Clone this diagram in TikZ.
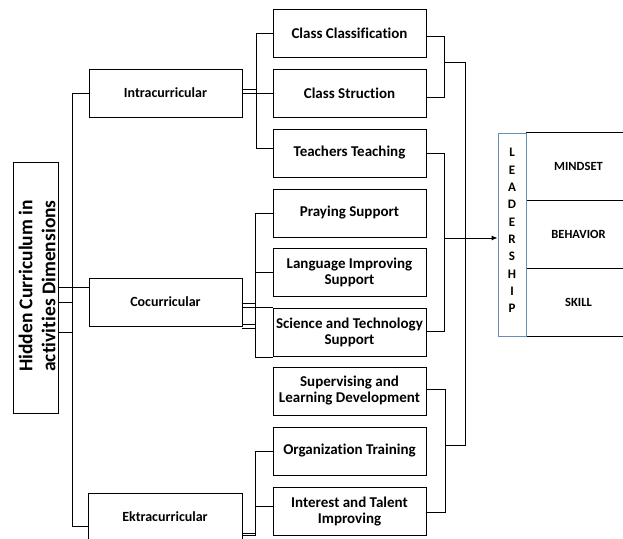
\documentclass[tikz,border=0pt]{standalone}
\usepackage{fontspec}
\setmainfont{Carlito}[RawFeature={-liga;-dlig;-clig}]
\usetikzlibrary{arrows.meta}
\definecolor{leadblue}{RGB}{105,142,180}
\begin{document}
\begin{tikzpicture}[x=1pt,y=-1pt,line width=0.9pt,
  box/.style={draw,line width=0.9pt,minimum width=153pt,minimum height=48pt,inner sep=1pt,align=center,
    font=\fontsize{15}{16}\selectfont\bfseries},
  mbox/.style={box,font=\fontsize{14}{16}\selectfont\bfseries},
  hbox/.style={draw,line width=0.9pt,minimum width=45pt,minimum height=251pt,inner sep=0pt},
  lbox/.style={draw,line width=0.9pt,minimum width=105pt,minimum height=68pt,inner sep=1pt,
    font=\fontsize{12.5}{14}\selectfont\bfseries},
  conn/.style={line width=0.9pt}]
\useasboundingbox (0,0) rectangle (623,538);

% left column
\node[hbox] (H) at (35.5,287.5) {};
\node[rotate=90,align=center,inner sep=0pt,font=\fontsize{19.5}{23}\selectfont\bfseries] (Ht) at (37,286)
  {Hidden Curriculum in\\activities Dimensions};

% middle column
\node[mbox] (intra) at (165.5,93) {Intracurricular};
\node[mbox] (cocu) at (165.5,302) {Cocurricular};
\node[mbox,minimum width=154pt] (ektra) at (165,517) {Ektracurricular};

% right column
\node[box] (cc) at (349.5,33) {Class Classification};
\node[box] (cs) at (349.5,93) {Class Struction};
\node[box] (tt) at (349.5,153) {Teachers Teaching};
\node[box] (ps) at (349.5,213) {Praying Support};
\node[box] (li) at (349.5,272) {Language Improving\\Support};
\node[box] (st) at (349.5,332) {Science and Technology\\Support};
\node[box] (sl) at (349.5,391) {Supervising and\\Learning Development};
\node[box] (ot) at (349.5,451) {Organization Training};
\node[box] (it) at (349.5,511) {Interest and Talent\\Improving};

% leadership block
\node[lbox] (mind) at (578.5,166.5) {MINDSET};
\node[lbox] (beh) at (578.5,234) {BEHAVIOR};
\node[lbox] (skill) at (578.5,302) {SKILL};
\node[draw=leadblue,line width=0.9pt,minimum width=28pt,minimum height=203pt,inner sep=0pt] (lead) at (512,234.5) {};
\node[align=center,inner sep=0pt,font=\fontsize{13}{17.33}\selectfont\bfseries] (lt) at (512,230.5)
  {L\\E\\A\\D\\E\\R\\S\\H\\I\\P};

% trunk from hidden curriculum
\draw[conn] (intra.west) -- ++(-16,0) |- ([yshift=-9pt]ektra.west);
\draw[conn] ([yshift=0.5pt]H.east) -- ([yshift=15pt]cocu.west);
\draw[conn] ([yshift=-14.5pt]H.east) -- ++(15,0);
\draw[conn] ([yshift=-44.5pt]H.east) -- ++(15,0);

% intracurricular branches
\draw[conn] (intra.east) -- (cs.west);
\draw[conn] ([yshift=4pt]intra.east) -- ++(15,0);
\draw[conn] (cc.west) -- ++(-16,0) |- ([yshift=5pt]tt.west);

% cocurricular branches
\draw[conn] (ps.west) -- ++(-17,0) |- ([yshift=-25pt]st.west);
\draw[conn] (li.west) -- ++(-17,0);
\draw[conn] ([yshift=-1pt]cocu.east) -- ++(14,0);
\draw[conn] ([yshift=-5pt]cocu.east) -- ([yshift=25pt]st.west);
\draw[conn] ([yshift=-22pt]cocu.east) -- ++(14,0);
\draw[conn] ([yshift=-26pt]cocu.east) -- ++(14,0);

% ektracurricular branches
\draw[conn] (ot.west) -- ++(-17,0) |- ([yshift=-18pt]ektra.east);
\draw[conn] ([yshift=-16pt]ektra.east) -- ++(14,0);
\draw[conn] ([yshift=5pt]it.west) -- ++(-17,0);

% right side connectors
\draw[conn] ([yshift=-3pt]cc.east) -- ++(18,0) |- ([yshift=-4pt]cs.east);
\draw[conn] ([yshift=2pt]sl.east) -- ++(19,0) |- ([yshift=-1pt]it.east);
\draw[conn] ([xshift=18pt,yshift=-29pt]cc.east) -- ++(21,0) |- ([xshift=19pt,yshift=6pt]ot.east);
\draw[conn] (tt.east) -- ++(18,0) |- ([yshift=1pt]st.east);
\draw[conn,-{Latex[length=6pt,width=5pt]}] ([xshift=18pt,yshift=-85pt]tt.east) -- ([yshift=-3.5pt]lead.west);
\end{tikzpicture}
\end{document}
